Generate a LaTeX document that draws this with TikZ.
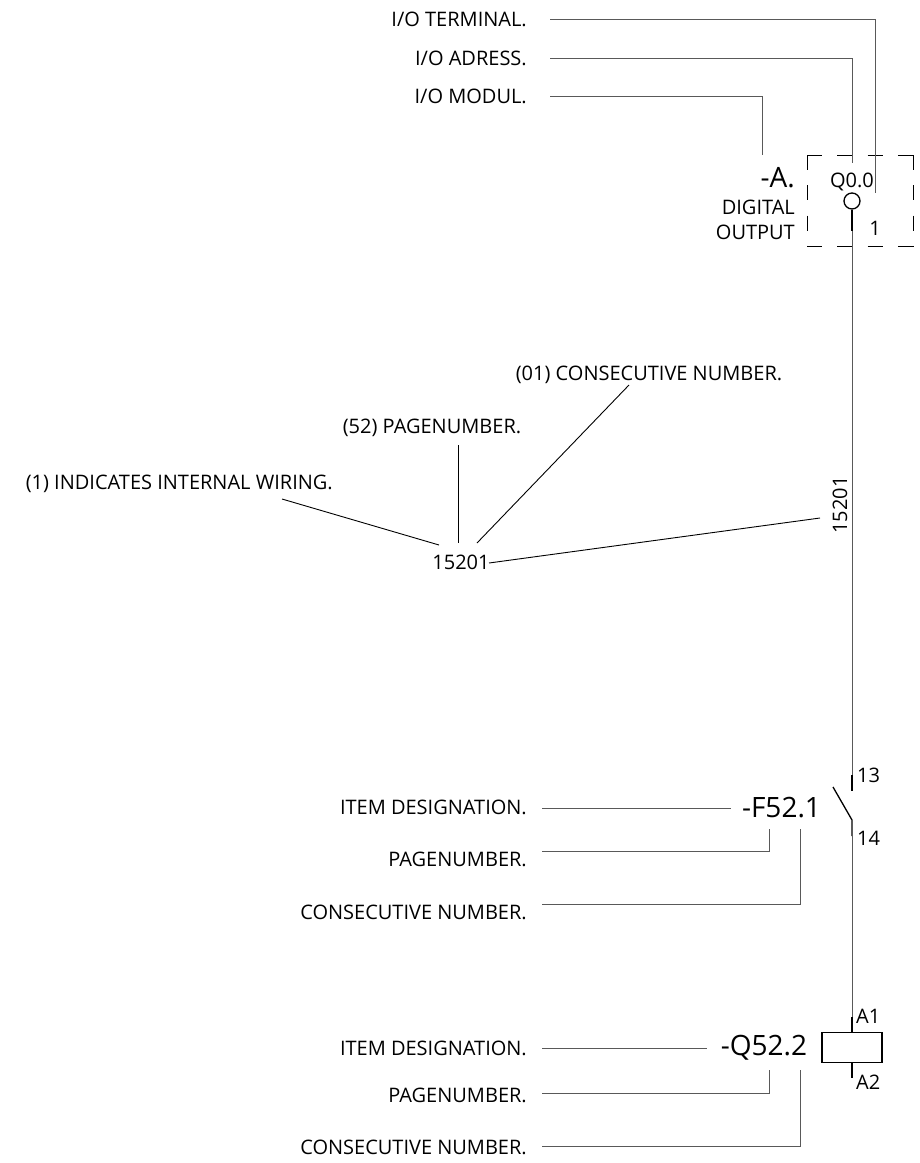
\documentclass[tikz,border=0pt]{standalone}
\usepackage{fontspec}
\setmainfont{Open Sans}
\begin{document}
\begin{tikzpicture}[x=1pt,y=-1pt, lbl/.style={inner sep=0pt, font=\fontsize{20}{24}\selectfont}, tag/.style={inner sep=0pt, font=\fontsize{28}{32}\selectfont}, wire/.style={draw=black!65, line width=1pt}, sym/.style={draw=black, line width=1.3pt}, lead/.style={draw=black, line width=.9pt}, dsh/.style={draw=black, line width=1pt, dash pattern=on 15pt off 15.3pt}]
\useasboundingbox (0,0) rectangle (920,1163);
% texts on the left, right aligned
\foreach \n/\y/\l in {term/19/I\slash O TERMINAL., adr/58/I\slash O ADRESS., mod/96/I\slash O MODUL., itemf/807/ITEM DESIGNATION., pagef/859/PAGENUMBER., consf/912/CONSECUTIVE NUMBER., itemq/1048/ITEM DESIGNATION., pageq/1095/PAGENUMBER., consq/1147/CONSECUTIVE NUMBER.}{\node[lbl, anchor=east] (\n) at (527,\y){\l};}
\node[lbl, anchor=east] (wiring) at (333,484){(1) INDICATES INTERNAL WIRING.};
\node[lbl] (page) at (432,428){(52) PAGENUMBER.};
\node[lbl] (cons) at (649,375){(01) CONSECUTIVE NUMBER.};
\node[lbl] (num) at (461,562){15201};
\node[lbl, rotate=90] (vnum) at (840,505){15201};
% designations
\node[tag, anchor=east] (a) at (795,178){-A.};
\node[tag] (f) at (781.5,808){-F52.1};
\node[tag] (q) at (764,1048){-Q52.2};
\node[lbl, anchor=east] (dig) at (795,207){DIGITAL};
\node[lbl, anchor=east] (out) at (795,232){OUTPUT};
\node[lbl] (qa) at (852,182){Q0.0};
\node[lbl] (one) at (875,228){1};
\node[lbl, anchor=west] (t13) at (857,775){13};
\node[lbl, anchor=west] (t14) at (857,838){14};
\node[lbl, anchor=west] (ta1) at (856,1016){A1};
\node[lbl, anchor=west] (ta2) at (856,1082){A2};
% symbols
\node[draw, circle, line width=1.3pt, minimum size=16pt, inner sep=0pt] (o) at (852,201){};
\node[sym, minimum width=60pt, minimum height=30pt, inner sep=0pt] (coil) at (852,1047.5){};
\foreach \n/\x/\y in {tl/807/155, tr/913/155, bl/807/246, br/913/246}{\coordinate (\n) at (\x,\y);}
\foreach \i/\j in {tl/tr, tl/bl, tr/br, bl/br}{\draw[dsh] (\i) -- (\j);}
% free ends
\foreach \n/\x/\y in {o1/852/231, a13/852/775, b13/852/791, a14/852/820, b14/852/836, lever/833/787, a1/852/1017, a2/852/1078}{\coordinate (\n) at (\x,\y);}
\draw[sym] (o.south) -- (o1);
\draw[wire] (o1) -- (a13);
\draw[sym] (a13) -- (b13);
\draw[sym] (lever) -- (a14) -- (b14);
\draw[wire] (b14) -- (a1);
\draw[sym] (a1) -- (coil.north);
\draw[sym] (coil.south) -- (a2);
% leaders
\foreach \n/\a/\y/\b/\e in {term/550/19/875/193, adr/550/58/852/163, mod/550/96/762/155, pagef/542/851/769/829, consf/542/904/800/829, pageq/542/1093/769/1070, consq/542/1146/800/1070}{\coordinate (\n s) at (\a,\y); \coordinate (\n e) at (\b,\e); \draw[wire] (\n s) -| (\n e);}
\draw[wire] ([xshift=15pt]itemf.east |- f.west) -- ([xshift=-11pt]f.west);
\draw[wire] ([xshift=15pt]itemq.east) -- ([xshift=-14pt]q.west);
\foreach \n/\x/\y in {w1/282/499, w2/439/545, p1/458/445, p2/458/543, c1/629/385, c2/477/543, n1/489/563, n2/820/518}{\coordinate (\n) at (\x,\y);}
\foreach \i/\j in {w1/w2, p1/p2, c1/c2, n1/n2}{\draw[lead] (\i) -- (\j);}
\end{tikzpicture}
\end{document}
